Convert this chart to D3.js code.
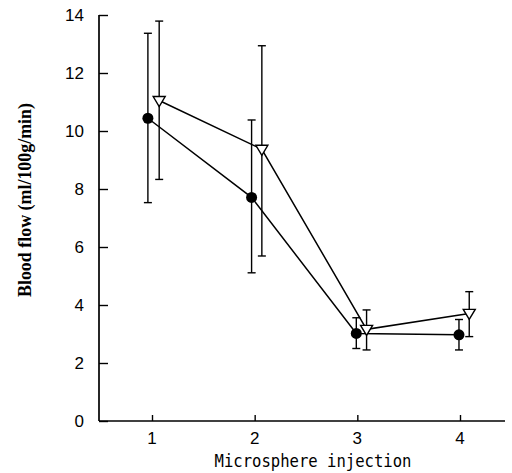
<!DOCTYPE html>
<html>
<head>
<meta charset="utf-8">
<script src="https://cdn.jsdelivr.net/npm/d3@7"></script>
<style>
body { margin: 0; background: #fff; }
svg { display: block; }
</style>
</head>
<body>
<svg id="svg" width="512" height="473"></svg>
<script>
// data
var injections = [1, 2, 3, 4];
var yTicks = [0, 2, 4, 6, 8, 10, 12, 14];

// filled circles
var circleX = [0.96, 1.97, 2.99, 3.99];
var circleMean = [10.44, 7.71, 3.02, 2.97];
var circleHi = [13.37, 10.38, 3.56, 3.50];
var circleLo = [7.53, 5.11, 2.50, 2.45];

// open triangles
var triX = [1.07, 2.07, 3.09, 4.09];
var triMean = [11.05, 9.37, 3.16, 3.71];
var triHi = [13.79, 12.94, 3.83, 4.46];
var triLo = [8.33, 5.69, 2.45, 2.91];

var svg = d3.select("svg");

var x = d3.scaleLinear().domain([1, 4]).range([152, 460]);
var y = d3.scaleLinear().domain([0, 14]).range([421, 15]);

var circles = circleX.map(function (d, i) {
	return { x: d, m: circleMean[i], hi: circleHi[i], lo: circleLo[i] };
});
var tris = triX.map(function (d, i) {
	return { x: d, m: triMean[i], hi: triHi[i], lo: triLo[i] };
});

// axes
var yAxis = d3.axisRight(y).tickValues(yTicks).tickSize(9).tickFormat("");
var gy = svg.append("g").attr("transform", "translate(99,0)").call(yAxis);
gy.select(".domain").attr("d", "M0,15V421");

var xAxis = d3.axisTop(x).tickValues(injections).tickSize(6).tickFormat("");
var gx = svg.append("g").attr("transform", "translate(0,421)").call(xAxis);
gx.select(".domain").attr("d", "M99,0H505");

svg.selectAll(".domain").attr("stroke", "#000").attr("stroke-width", 1.7);
svg.selectAll(".tick line").attr("stroke", "#000").attr("stroke-width", 1.4);

svg.append("g").selectAll("text")
	.data(yTicks)
	.enter().append("text")
	.attr("x", 84)
	.attr("y", function (d) { return y(d) + 6; })
	.attr("text-anchor", "end")
	.style("font-family", "'Liberation Sans', Arial, sans-serif")
	.style("font-size", "17px")
	.text(function (d) { return d; });

svg.append("g").selectAll("text")
	.data(injections)
	.enter().append("text")
	.attr("x", function (d) { return x(d); })
	.attr("y", 444)
	.attr("text-anchor", "middle")
	.style("font-family", "'Liberation Sans', Arial, sans-serif")
	.style("font-size", "17px")
	.text(function (d) { return d; });

svg.append("text")
	.attr("x", 313)
	.attr("y", 467)
	.attr("text-anchor", "middle")
	.attr("textLength", 197)
	.attr("lengthAdjust", "spacingAndGlyphs")
	.style("font-family", "'DejaVu Sans Mono', monospace")
	.style("font-size", "17px")
	.text("Microsphere injection");

svg.append("text")
	.attr("transform", "translate(31,200) rotate(-90)")
	.attr("text-anchor", "middle")
	.attr("textLength", 194)
	.attr("lengthAdjust", "spacingAndGlyphs")
	.style("font-family", "'Liberation Serif', serif")
	.style("font-weight", "bold")
	.style("font-size", "18px")
	.text("Blood flow (ml/100g/min)");

// error bars
function errorBars(data) {
	var g = svg.append("g").attr("stroke", "#000").attr("stroke-width", 1.4);
	g.selectAll("line.v").data(data).enter().append("line")
		.attr("x1", function (d) { return x(d.x); })
		.attr("x2", function (d) { return x(d.x); })
		.attr("y1", function (d) { return y(d.hi); })
		.attr("y2", function (d) { return y(d.lo); });
	["hi", "lo"].forEach(function (k) {
		g.selectAll("line." + k).data(data).enter().append("line")
			.attr("x1", function (d) { return x(d.x) - 4; })
			.attr("x2", function (d) { return x(d.x) + 4; })
			.attr("y1", function (d) { return y(d[k]); })
			.attr("y2", function (d) { return y(d[k]); });
	});
}
errorBars(circles);
errorBars(tris);

var line = d3.line()
	.x(function (d) { return x(d.x); })
	.y(function (d) { return y(d.m); });

svg.append("path").datum(circles).attr("d", line)
	.attr("fill", "none").attr("stroke", "#000").attr("stroke-width", 1.5);
svg.append("path").datum(tris).attr("d", line)
	.attr("fill", "none").attr("stroke", "#000").attr("stroke-width", 1.5);

// markers
svg.append("g").selectAll("circle")
	.data(circles)
	.enter().append("circle")
	.attr("cx", function (d) { return x(d.x); })
	.attr("cy", function (d) { return y(d.m); })
	.attr("r", 5.5)
	.attr("fill", "#000");

svg.append("g").selectAll("path")
	.data(tris)
	.enter().append("path")
	.attr("d", function (d) {
		var cx = x(d.x), cy = y(d.m);
		return "M" + (cx - 6) + "," + (cy - 4) + "L" + (cx + 6) + "," + (cy - 4) + "L" + cx + "," + (cy + 6) + "Z";
	})
	.attr("fill", "#fff")
	.attr("stroke", "#000")
	.attr("stroke-width", 1.4);
</script>
</body>
</html>
